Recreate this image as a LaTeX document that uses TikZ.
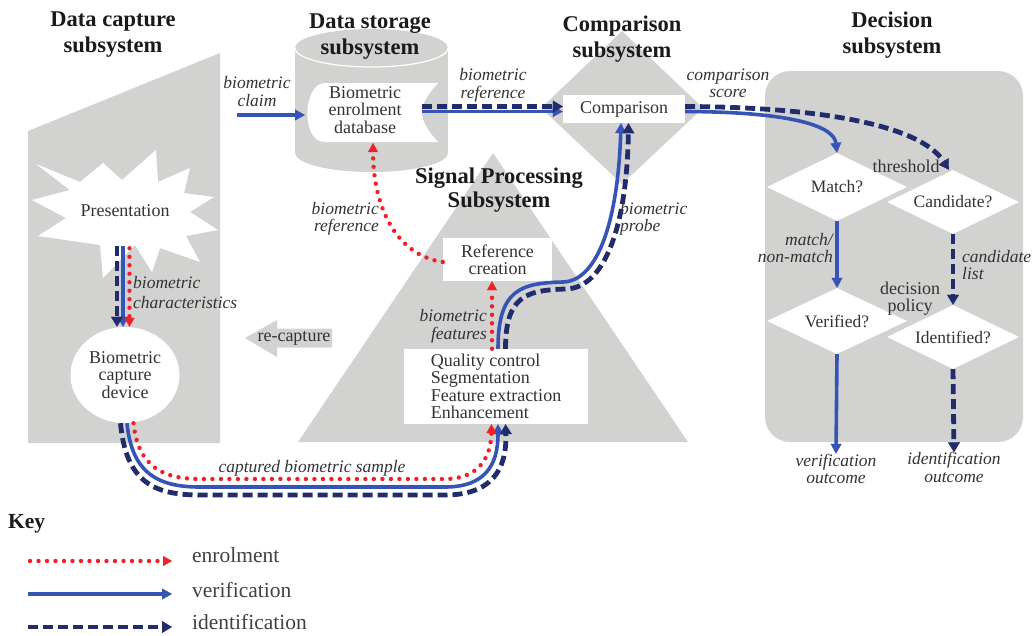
\documentclass[tikz,border=0pt]{standalone}
\usepackage{fontspec}
\setmainfont{Liberation Serif}
\usetikzlibrary{arrows.meta,shapes.geometric}
\definecolor{gfill}{RGB}{210,211,209}
\definecolor{vblue}{RGB}{54,84,182}
\definecolor{inavy}{RGB}{32,44,108}
\definecolor{ered}{RGB}{238,32,40}
\definecolor{txt}{RGB}{51,51,51}
\definecolor{ttlc}{RGB}{26,26,26}
\definecolor{keyc}{RGB}{68,64,64}
\begin{document}
\begin{tikzpicture}[x=1pt,y=-1pt,
  lbl/.style={font=\fontsize{17.5}{17.5}\selectfont\itshape, text=txt, inner sep=0pt, align=center},
  txtn/.style={font=\fontsize{18}{17.5}\selectfont, text=txt, inner sep=0pt},
  boxn/.style={txtn, fill=white, inner sep=0pt},
  dmd/.style={diamond, aspect=2, fill=white, inner sep=0pt, font=\fontsize{17.5}{17.5}\selectfont, text=txt},
  ttl/.style={font=\fontsize{22.5}{26}\selectfont\bfseries, text=ttlc, align=center, inner sep=0pt},
  keyt/.style={font=\fontsize{21.5}{22}\selectfont, text=keyc, inner sep=0pt, anchor=west},
  vln/.style={draw=vblue, line width=3.6pt, -{Triangle[length=10pt,width=11pt,line width=0.3pt]}},
  iln/.style={draw=inavy, line width=4.8pt, dash pattern=on 10pt off 5pt, -{Triangle[length=10pt,width=12pt,line width=0.3pt]}},
  eln/.style={draw=ered, line width=4.4pt, line cap=round, dash pattern=on 0pt off 8.5pt, -{Triangle[length=9pt,width=10pt,line width=0.3pt]}},
]
\useasboundingbox (0,0) rectangle (1032,635);

% ---------- gray background shapes ----------
\fill[gfill] (28,131) -- (220,53) -- (220,443) -- (28,443) -- cycle;
\fill[gfill] (295,48) rectangle (448,153);
\fill[gfill] (371.5,48) ellipse [x radius=76.5, y radius=19];
\fill[gfill] (371.5,153) ellipse [x radius=76.5, y radius=19];
\draw[white, line width=1.2pt] (448,48) arc[start angle=0, end angle=180, x radius=76.5, y radius=19];
\fill[gfill] (622,31) -- (703,108) -- (622,184) -- (541,108) -- cycle;
\fill[gfill] (493,153) -- (688,442) -- (298,442) -- cycle;
\fill[gfill, rounded corners=25pt] (765,71) rectangle (1023,442);
\fill[gfill] (245,338) -- (277,320) -- (277,328.5) -- (332,328.5) -- (332,347.5) -- (277,347.5) -- (277,357) -- cycle;

% ---------- white shapes and nodes ----------
\fill[white] (36,164) -- (80,182) -- (103,163) -- (122,180) -- (156,150) -- (158,182) -- (190,168)
  -- (184,193) -- (214,197) -- (190,212) -- (218,230) -- (186,236) -- (200,262) -- (160,248)
  -- (152,272) -- (135,245) -- (103,278) -- (100,245) -- (38,236) -- (66,218) -- (32,200)
  -- (70,190) -- cycle;
\node[txtn] (pres) at (125,211) {Presentation};
\node[ellipse, fill=white, minimum width=109pt, minimum height=96pt, txtn, align=center] (dev) at (125,375) {Biometric\\capture\\device};

\fill[white] (325,83) -- (438,83) .. controls (427,95) and (422,104) .. (422,112.5)
  .. controls (422,121) and (427,130) .. (438,142) -- (325,142)
  .. controls (300,142) and (303,83) .. (325,83) -- cycle;
\node[txtn, align=center] (db) at (365,110) {Biometric\\enrolment\\database};
\coordinate (dbRi) at (422,106.5);
\coordinate (dbRv) at (422,111.5);
\coordinate (dbB) at (373,143);

\node[boxn, minimum width=122pt, minimum height=28pt] (cmp) at (624,109) {Comparison};
\node[boxn, minimum width=109pt, minimum height=43pt, align=center] (ref) at (497.5,259.5) {Reference\\creation};
\node[boxn, minimum width=184pt, minimum height=75pt, align=left] (qc) at (496,386.5) {Quality control\\Segmentation\\Feature extraction\\Enhancement};

\node[dmd, minimum width=140pt, minimum height=68pt] (match) at (837,187) {Match?};
\node[dmd, minimum width=132pt, minimum height=64pt] (cand) at (953,202) {Candidate?};
\node[dmd, minimum width=140pt, minimum height=66pt] (verif) at (837,321) {Verified?};
\node[dmd, minimum width=132pt, minimum height=64pt] (ident) at (953,337) {Identified?};

\node[txtn] (recap) at (294,338) {re-capture};

% ---------- connectors ----------
\coordinate (claimA) at (237,115);
\coordinate (claimB) at (305,115);
\draw[vln] (claimA) -- (claimB);

\draw[vln] (dbRv) -- ([yshift=-2.5pt]cmp.west);
\draw[iln] (dbRi) -- ([yshift=2.5pt]cmp.west);

% presentation -> device
\draw[vln] ([xshift=-2pt,yshift=-29pt]pres.south) -- ([xshift=-2pt]dev.north);
\draw[iln] ([xshift=-8pt,yshift=-29pt]pres.south) -- ([xshift=-8pt]dev.north);
\draw[eln] ([xshift=4.5pt,yshift=-31pt]pres.south) -- ([xshift=4.5pt]dev.north);

% device -> quality control
\draw[vln] ([xshift=2pt]dev.south) .. controls (132,475) and (160,487) .. (200,487) -- (445,487)
  .. controls (485,487) and (498,465) .. ([xshift=2pt]qc.south);
\draw[eln] ([xshift=8.5pt]dev.south) .. controls (138,468) and (165,479) .. (200,479) -- (445,479)
  .. controls (478,479) and (491,458) .. ([xshift=-4.5pt]qc.south);
\draw[iln] ([xshift=-4.5pt]dev.south) .. controls (126,483) and (155,495) .. (200,495) -- (445,495)
  .. controls (491,495) and (507,470) .. ([xshift=9.5pt]qc.south);

% quality control -> reference creation
\draw[eln] ([xshift=-4pt]qc.north) -- ([xshift=-5.5pt]ref.south);
% reference creation -> database
\draw[eln] ([yshift=-2.5pt]ref.west) .. controls (395,255) and (373,205) .. (dbB);

% quality control -> comparison (probe)
\draw[vln] ([xshift=2pt]qc.north) .. controls (498,290) and (520,283) .. (563,282)
  .. controls (598,281) and (618,220) .. ([xshift=-3pt]cmp.south);
\draw[iln] ([xshift=9.5pt]qc.north) .. controls (505.5,297) and (525,290) .. (566,289)
  .. controls (605,288) and (627,225) .. ([xshift=4.5pt]cmp.south);

% comparison -> decision
\draw[vln] ([yshift=-2.5pt]cmp.east) .. controls (800,112) and (834,128) .. (match.north);
\draw[iln] ([yshift=2.5pt]cmp.east) .. controls (820,107) and (920,125) .. ([xshift=-4pt]cand.north);

\draw[vln] (match.south) -- (verif.north);
\draw[iln] (cand.south) -- (ident.north);

\node[lbl] (vout) at (836,469) {verification\\outcome};
\node[lbl] (iout) at (954,467.5) {identification\\outcome};
\draw[vln] (verif.south) -- (vout.north);
\draw[iln] (ident.south) -- (iout.north);

% ---------- labels ----------
\node[lbl] (lclaim) at (257,91.5) {biometric\\claim};
\node[lbl] (lref1) at (493,85.5) {biometric\\reference};
\node[lbl] (lscore) at (728,83.5) {comparison\\score};
\node[lbl, align=left, anchor=west, font=\fontsize{17.5}{20}\selectfont\itshape] (lchar) at (133,293) {biometric\\characteristics};
\node[lbl, align=right, anchor=east] (lref2) at (379,219) {biometric\\reference};
\node[lbl, align=left, anchor=west] (lprobe) at (620,219) {biometric\\probe};
\node[lbl, align=right, anchor=east] (lfeat) at (487,326.5) {biometric\\features};
\node[lbl] (lsample) at (312,468) {captured biometric sample};
\node[lbl, align=right, anchor=east] (lmatch) at (833,248) {match/\\non-match};
\node[lbl, align=left, anchor=west] (lcand) at (962,265) {candidate\\list};
\node[txtn] (lthr) at (906,166) {threshold};
\node[txtn, align=center] (lpol) at (910,298.5) {decision\\policy};

% ---------- titles ----------
\node[ttl] (t1) at (113,35) {Data capture\\subsystem};
\node[ttl] (t2) at (370,36.5) {Data storage\\subsystem};
\node[ttl] (t3) at (622,39) {Comparison\\subsystem};
\node[ttl] (t4) at (892,35.5) {Decision\\subsystem};
\node[ttl, font=\fontsize{22.5}{24}\selectfont\bfseries] (t5) at (499,190) {Signal Processing\\Subsystem};

% ---------- key ----------
\node[font=\fontsize{21.5}{22}\selectfont\bfseries, text=ttlc, inner sep=0pt, anchor=west] (key) at (8,524) {Key};
\coordinate (k1a) at (30,561); \coordinate (k1b) at (172,561);
\coordinate (k2a) at (28,594); \coordinate (k2b) at (172,594);
\coordinate (k3a) at (28,627); \coordinate (k3b) at (172,627);
\draw[eln] (k1a) -- (k1b);
\draw[vln] (k2a) -- (k2b);
\draw[iln] (k3a) -- (k3b);
\node[keyt] (ke) at (192,555) {enrolment};
\node[keyt] (kv) at (192,590) {verification};
\node[keyt] (ki) at (192,622) {identification};
\end{tikzpicture}
\end{document}
